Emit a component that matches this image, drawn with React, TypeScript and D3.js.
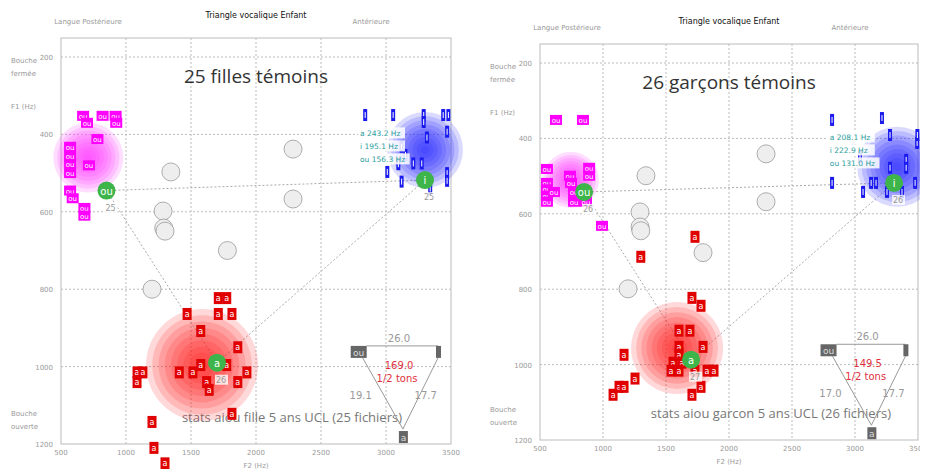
import React from 'react';
import * as d3 from 'd3';

// [F2, F1] pairs
const girlsOu = [[670,352],[700,370],[820,352],[920,352],[925,370],[780,412],[570,432],[570,455],[570,476],[570,500],[715,480],[570,545],[590,565],[680,590],[680,610]];
const girlsI = [[2840,350],[3055,350],[3290,350],[3290,368],[3440,350],[3480,350],[3470,393],[3315,408],[3120,432],[3150,453],[3095,477],[3210,475],[3275,475],[3010,497],[3120,522],[3470,500],[3470,520],[3340,540]];
const girlsA = [[1710,823],[1775,823],[1470,864],[1710,864],[1815,864],[1575,908],[1860,950],[1085,1015],[1130,1015],[1085,1040],[1410,1015],[1515,1015],[1575,996],[1775,996],[1620,1040],[1640,1060],[1860,1040],[1930,1015],[1815,1122],[1200,1143],[1215,1210],[1300,1250]];
const girlsRef = [[1345,497],[1285,598],[1290,642],[1300,650],[2285,438],[2285,567],[1780,700],[1200,800]];
const girlsMeans = [{v:'ou',p:[850,545],n:'25'},{v:'i',p:[3300,518],n:'25'},{v:'a',p:[1700,990],n:'26'}];
const girlsGlow = {ou:[710,460,35],i:[3300,440,38],a:[1585,996,56]};

const boysOu = [[627,351],[841,351],[555,481],[738,499],[890,478],[890,499],[555,518],[555,535],[555,552],[555,568],[611,542],[746,518],[770,542],[770,568],[865,568],[992,632]];
const boysI = [[2818,351],[3214,346],[3278,391],[3493,412],[3495,391],[3040,449],[3406,457],[3406,478],[3278,478],[2818,518],[3064,542],[3128,518],[3167,518],[3254,542],[3373,542],[3477,518]];
const boysA = [[1730,661],[1300,714],[1706,823],[1778,844],[1603,910],[1690,910],[1794,953],[1603,953],[1603,974],[1167,974],[1556,995],[1627,995],[1540,1016],[1603,1016],[1730,1016],[1826,1016],[1881,1016],[1254,1037],[1127,1059],[1167,1059],[1080,1080],[1778,1059],[1706,1080]];
const boysRef = [[1341,499],[1294,595],[1294,635],[1300,645],[2294,441],[2294,568],[1794,703],[1199,799]];
const boysMeans = [{v:'ou',p:[850,542],n:'26'},{v:'i',p:[3310,518],n:'26'},{v:'a',p:[1699,987],n:'27'}];
const boysGlow = {ou:[745,510,28],i:[3335,475,40],a:[1588,956,46]};

const xTicks = [500,1000,1500,2000,2500,3000,3500];
const yTicks = [200,400,600,800,1000,1200];
const insetPts = {ou:[2790,962], i:[3400,962], a:[3130,1182]};

type P = {
  left:number; right:number; top:number; y200:number; y1200:number;
  title:string; ou:number[][]; iv:number[][]; a:number[][]; refs:number[][];
  means:{v:string;p:number[];n:string}[]; glow:any; hz:string[];
  inset:{top:string;mid:string;l:string;r:string}; footer:string; footerX:number;
};

const Panel = (p: P) => {
  const x = d3.scaleLinear().domain([500,3500]).range([p.left,p.right]);
  const y = d3.scaleLinear().domain([200,1200]).range([p.y200,p.y1200]);
  const bottom = y(1200);
  const grey = '#999';
  const mid = (p.left+p.right)/2;
  const glow = (c:number[], col:string, key:string) => {
    const rings = d3.range(9);
    return <g key={key}>{rings.map(k => <circle key={k} cx={x(c[0])} cy={y(c[1])} r={c[2]*(1-k/9)} fill={col} opacity={0.17} />)}</g>;
  };
  const mean = (v:string) => p.means.find(m=>m.v===v)!.p;
  const im = insetPts;
  return (
    <g fontFamily="Verdana, 'DejaVu Sans', sans-serif">
      <text x={mid} y={p.top-20} fontSize={8} textAnchor="middle" fill="#111">Triangle vocalique Enfant</text>
      <text x={p.left+27} y={p.top-14} fontSize={7} textAnchor="middle" fill={grey}>Langue Postérieure</text>
      <text x={p.left+310} y={p.top-14} fontSize={7} textAnchor="middle" fill={grey}>Antérieure</text>
      <text x={p.left-50} y={p.y200+6} fontSize={7} fill={grey}>Bouche</text>
      <text x={p.left-50} y={p.y200+19} fontSize={7} fill={grey}>fermée</text>
      <text x={p.left-50} y={p.y200+52} fontSize={7} fill={grey}>F1 (Hz)</text>
      <text x={p.left-50} y={bottom-28} fontSize={7} fill={grey}>Bouche</text>
      <text x={p.left-50} y={bottom-15} fontSize={7} fill={grey}>ouverte</text>
      <text x={mid} y={bottom+24} fontSize={7} textAnchor="middle" fill={grey}>F2 (Hz)</text>
      <rect x={p.left} y={p.top} width={p.right-p.left} height={bottom-p.top} fill="none" stroke="#bbb" />
      {xTicks.slice(1,-1).map(t => <line key={'gx'+t} x1={x(t)} x2={x(t)} y1={p.top} y2={bottom} stroke="#bbb" strokeDasharray="2,2" />)}
      {yTicks.slice(0,-1).map(t => <line key={'gy'+t} x1={p.left} x2={p.right} y1={y(t)} y2={y(t)} stroke="#bbb" strokeDasharray="2,2" />)}
      {xTicks.map(t => <text key={'tx'+t} x={x(t)} y={bottom+11} fontSize={7} textAnchor="middle" fill={grey}>{t}</text>)}
      {yTicks.map(t => <text key={'ty'+t} x={p.left-8} y={y(t)+3} fontSize={7} textAnchor="end" fill={grey}>{t}</text>)}
      <text x={mid} y={p.top+45} fontSize={19} textAnchor="middle" fill="#333" fontFamily="'Open Sans', sans-serif">{p.title}</text>
      <text x={p.footerX} y={bottom-22} fontSize={13} textAnchor="end" fill="#777" fontFamily="'Open Sans', sans-serif">{p.footer}</text>
      {[['ou','i'],['ou','a'],['i','a']].map(([s,e]) => <line key={s+e} x1={x(mean(s)[0])} y1={y(mean(s)[1])} x2={x(mean(e)[0])} y2={y(mean(e)[1])} stroke="#aaa" strokeDasharray="2,2" />)}
      {p.refs.map((d,i) => <circle key={'r'+i} cx={x(d[0])} cy={y(d[1])} r={9} fill="#eee" stroke="#999" strokeWidth={0.8} />)}
      {glow(p.glow.ou,'#ff33ff','go')}
      {glow(p.glow.i,'#2222ff','gi')}
      {glow(p.glow.a,'#ff2020','ga')}
      {p.ou.map((d,i) => <g key={'o'+i}><rect x={x(d[0])-6} y={y(d[1])-5} width={12} height={10} fill="#ff00ff" /><text x={x(d[0])} y={y(d[1])+3} fontSize={7} fill="#fff" textAnchor="middle">ou</text></g>)}
      {p.iv.map((d,i) => <g key={'i'+i}><rect x={x(d[0])-2} y={y(d[1])-6} width={4} height={12} fill="#1a1aee" /><rect x={x(d[0])-0.5} y={y(d[1])-3} width={1} height={6} fill="#fff" /></g>)}
      {p.a.map((d,i) => <g key={'a'+i}><rect x={x(d[0])-4.5} y={y(d[1])-6} width={9} height={12} fill="#e00000" /><text x={x(d[0])} y={y(d[1])+3} fontSize={8} fill="#fff" textAnchor="middle">a</text></g>)}
      {p.means.map(m => <g key={'m'+m.v}>
        <circle cx={x(m.p[0])} cy={y(m.p[1])} r={9} fill="#3db54a" />
        <text x={x(m.p[0])} y={y(m.p[1])+4} fontSize={10} fill="#fff" textAnchor="middle">{m.v}</text>
        <rect x={x(m.p[0])-2} y={y(m.p[1])+12} width={13} height={10} fill="#fff" opacity={0.8} />
        <text x={x(m.p[0])+4} y={y(m.p[1])+20} fontSize={8} fill={grey} textAnchor="middle">{m.n}</text>
      </g>)}
      {p.hz.map((t,i) => <g key={'h'+i}><rect x={x(2800)-2} y={y(400)-7+i*13} width={t.length*4.7} height={11} fill="#fff" opacity={0.85} /><text x={x(2800)} y={y(400)+2+i*13} fontSize={7.5} fill="#2a9d9d">{t}</text></g>)}
      <g stroke={grey} strokeWidth={1}>
        <line x1={x(im.ou[0])+8} y1={y(im.ou[1])-6} x2={x(im.i[0])} y2={y(im.i[1])-6} />
        <line x1={x(im.ou[0])+4} y1={y(im.ou[1])+6} x2={x(im.a[0])} y2={y(im.a[1])-8} />
        <line x1={x(im.i[0])} y1={y(im.i[1])+6} x2={x(im.a[0])} y2={y(im.a[1])-8} />
      </g>
      <rect x={x(im.ou[0])-8} y={y(im.ou[1])-6} width={16} height={12} fill="#666" />
      <text x={x(im.ou[0])} y={y(im.ou[1])+4} fontSize={9} fill="#ddd" textAnchor="middle">ou</text>
      <rect x={x(im.i[0])-2} y={y(im.i[1])-6} width={5} height={12} fill="#666" />
      <rect x={x(im.a[0])-4} y={y(im.a[1])-6} width={9} height={12} fill="#666" />
      <text x={x(im.a[0])+0.5} y={y(im.a[1])+4} fontSize={9} fill="#ddd" textAnchor="middle">a</text>
      <text x={x(3100)} y={y(962)-10} fontSize={10} fill={grey} textAnchor="middle">{p.inset.top}</text>
      <text x={x(3100)} y={y(962)+17} fontSize={10} fill="#e03040" textAnchor="middle">{p.inset.mid}</text>
      <text x={x(3085)} y={y(962)+30} fontSize={10} fill="#e03040" textAnchor="middle">1/2 tons</text>
      <text x={x(2805)} y={y(962)+47} fontSize={10} fill={grey} textAnchor="middle">{p.inset.l}</text>
      <text x={x(3305)} y={y(962)+47} fontSize={10} fill={grey} textAnchor="middle">{p.inset.r}</text>
    </g>
  );
};

export default function App() {
  return (
    <svg width={912} height={469} style={{display:'block', margin:'-8px 0 0 -8px', background:'#fff'}} viewBox="0 0 912 469" overflow="visible">
      <Panel left={61} right={451} top={38} y200={57} y1200={444} title="25 filles témoins"
        ou={girlsOu} iv={girlsI} a={girlsA} refs={girlsRef} means={girlsMeans} glow={girlsGlow}
        hz={['a 243.2 Hz','i 195.1 Hz','ou 156.3 Hz']} inset={{top:'26.0',mid:'169.0',l:'19.1',r:'17.7'}}
        footer="stats aiou fille 5 ans UCL (25 fichiers)" footerX={402} />
      <Panel left={540} right={918} top={44} y200={63} y1200={440} title="26 garçons témoins"
        ou={boysOu} iv={boysI} a={boysA} refs={boysRef} means={boysMeans} glow={boysGlow}
        hz={['a 208.1 Hz','i 222.9 Hz','ou 131.0 Hz']} inset={{top:'26.0',mid:'149.5',l:'17.0',r:'17.7'}}
        footer="stats aiou garcon 5 ans UCL (26 fichiers)" footerX={891} />
    </svg>
  );
}
